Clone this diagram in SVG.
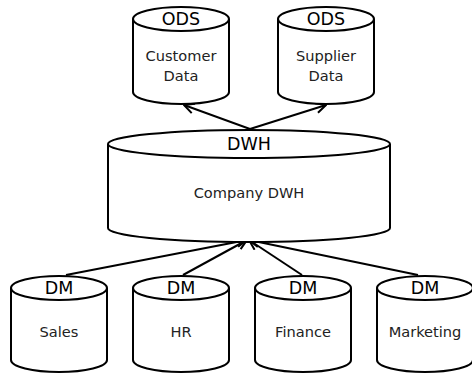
<svg xmlns="http://www.w3.org/2000/svg" width="472" height="373" viewBox="0 0 472 373">
  <style>
    .cyl { fill: #ffffff; stroke: #000000; stroke-width: 2; }
    .hdr { font-family: "DejaVu Sans", sans-serif; font-size: 17.5px; fill: #000000; text-anchor: middle; }
    .lbl { font-family: "DejaVu Sans", sans-serif; font-size: 14.6px; fill: #222222; text-anchor: middle; }
    .edge { fill: none; stroke: #000000; stroke-width: 2; marker-end: url(#arrow); }
  </style>
  <defs>
    <marker id="arrow" viewBox="0 0 12 12" refX="11" refY="6" markerWidth="12" markerHeight="12" markerUnits="userSpaceOnUse" orient="auto">
      <path d="M1,1 L11,6 L1,11" fill="none" stroke="#000000" stroke-width="2"/>
    </marker>
  </defs>

  <g id="connectors">
    <line class="edge" x1="250" y1="129" x2="184" y2="105"/>
    <line class="edge" x1="250" y1="129" x2="326" y2="105"/>
    <line class="edge" x1="66" y1="275" x2="247" y2="240"/>
    <line class="edge" x1="183" y1="275" x2="247" y2="240"/>
    <line class="edge" x1="302" y1="275" x2="249" y2="240"/>
    <line class="edge" x1="418" y1="275" x2="249" y2="240"/>
  </g>

  <g id="customer-data">
    <path class="cyl" d="M133,19 L133,92 A48,12 0 0 0 229,92 L229,19"/>
    <ellipse class="cyl" cx="181" cy="19" rx="48" ry="12"/>
    <text class="hdr" x="181" y="25">ODS</text>
    <text class="lbl" x="181" y="61">Customer</text>
    <text class="lbl" x="181" y="81">Data</text>
  </g>

  <g id="supplier-data">
    <path class="cyl" d="M278,19 L278,92 A48,12 0 0 0 374,92 L374,19"/>
    <ellipse class="cyl" cx="326" cy="19" rx="48" ry="12"/>
    <text class="hdr" x="326" y="25">ODS</text>
    <text class="lbl" x="326" y="61">Supplier</text>
    <text class="lbl" x="326" y="81">Data</text>
  </g>

  <g id="company-dwh">
    <path class="cyl" d="M108,144 L108,228 A141,14 0 0 0 390,228 L390,144"/>
    <ellipse class="cyl" cx="249" cy="144" rx="141" ry="14"/>
    <text class="hdr" x="249" y="150">DWH</text>
    <text class="lbl" x="249" y="198">Company DWH</text>
  </g>

  <g id="dm-sales">
    <path class="cyl" d="M11,288 L11,360 A48,12 0 0 0 107,360 L107,288"/>
    <ellipse class="cyl" cx="59" cy="288" rx="48" ry="12"/>
    <text class="hdr" x="59" y="294">DM</text>
    <text class="lbl" x="59" y="337">Sales</text>
  </g>

  <g id="dm-hr">
    <path class="cyl" d="M133,288 L133,360 A48,12 0 0 0 229,360 L229,288"/>
    <ellipse class="cyl" cx="181" cy="288" rx="48" ry="12"/>
    <text class="hdr" x="181" y="294">DM</text>
    <text class="lbl" x="181" y="337">HR</text>
  </g>

  <g id="dm-finance">
    <path class="cyl" d="M255,288 L255,360 A48,12 0 0 0 351,360 L351,288"/>
    <ellipse class="cyl" cx="303" cy="288" rx="48" ry="12"/>
    <text class="hdr" x="303" y="294">DM</text>
    <text class="lbl" x="303" y="337">Finance</text>
  </g>

  <g id="dm-marketing">
    <path class="cyl" d="M377,288 L377,360 A48,12 0 0 0 473,360 L473,288"/>
    <ellipse class="cyl" cx="425" cy="288" rx="48" ry="12"/>
    <text class="hdr" x="425" y="294">DM</text>
    <text class="lbl" x="425" y="337">Marketing</text>
  </g>
</svg>
